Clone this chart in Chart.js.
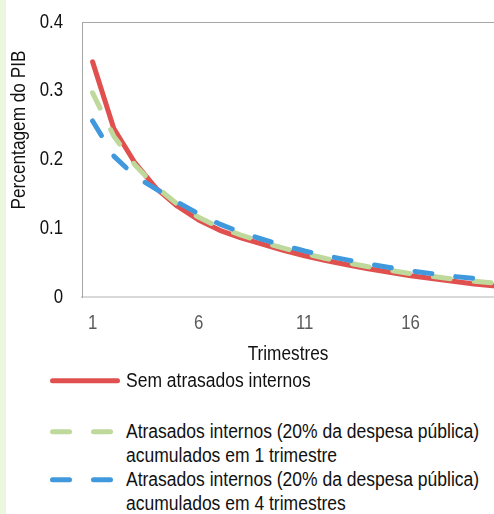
<!DOCTYPE html>
<html lang="pt">
<head>
<meta charset="utf-8">
<title>Atrasados internos</title>
<script src="https://cdn.jsdelivr.net/npm/chart.js@4.4.1/dist/chart.umd.min.js"></script>
<style>
  html, body { margin: 0; padding: 0; }
  body {
    width: 494px; height: 514px; overflow: hidden; position: relative;
    background: #fff; font-family: "Liberation Sans", Arial, sans-serif;
  }
  .faixa { position: absolute; left: 0; top: 0; width: 6px; height: 514px; background: #ebf8df; }
  .grafico { position: absolute; left: 0; top: 0; width: 520px; height: 372px; }
  #legenda { position: absolute; left: 48px; top: 0; }
  .item {
    position: absolute; left: 0; display: flex; align-items: flex-start;
    white-space: nowrap; font-size: 20px; line-height: 23.5px; color: #111;
  }
  .item svg { width: 78px; height: 23.5px; flex: none; }
  /* letra estreita, como Arial Narrow */
  .item .texto { transform: scaleX(0.875); transform-origin: 0 0; }
  .item:nth-child(1) { top: 369px; }
  .item:nth-child(2) { top: 420px; }
  .item:nth-child(3) { top: 468px; }
</style>
</head>
<body>
<div class="faixa"></div>
<div class="grafico"><canvas id="graficoAtrasados"></canvas></div>
<div id="legenda"></div>

<script>
const FONTE = '"Liberation Sans", Arial, sans-serif';
const COMPRESSAO = 0.84;

// Trimestres no eixo horizontal
const trimestres = ['1','2','3','4','5','6','7','8','9','10','11','12','13','14','15','16','17','18','19','20'];
const rotulosX = ['1', '6', '11', '16'];
const marcasY = [0, 0.1, 0.2, 0.3, 0.4];

// Séries (percentagem do PIB)
const semAtrasados = [0.342, 0.245, 0.195, 0.158, 0.132, 0.112, 0.097, 0.086, 0.077, 0.068, 0.060, 0.053, 0.047, 0.041, 0.036, 0.031, 0.027, 0.023, 0.019, 0.016];
const atrasados1T  = [0.297, 0.234, 0.192, 0.160, 0.135, 0.116, 0.101, 0.090, 0.080, 0.071, 0.063, 0.056, 0.050, 0.044, 0.039, 0.034, 0.030, 0.026, 0.023, 0.020];
const atrasados4T  = [0.256, 0.205, 0.176, 0.157, 0.138, 0.121, 0.106, 0.094, 0.084, 0.075, 0.067, 0.060, 0.054, 0.048, 0.043, 0.038, 0.034, 0.030, 0.027, 0.024];

const nomesSeries = [
    ['Sem atrasados internos'],
    ['Atrasados internos (20% da despesa pública)', 'acumulados em 1 trimestre'],
    ['Atrasados internos (20% da despesa pública)', 'acumulados em 4 trimestres']
];
const coresSeries = ['#e0504e', '#bfd89c', '#4099dd'];
const tracejado = [17, 24];

const tituloX = 'Trimestres';
const tituloY = 'Percentagem do PIB';

// texto comprimido na horizontal
function escrever(ctx, str, x, y, align) {
    ctx.save();
    ctx.translate(x, y);
    ctx.scale(COMPRESSAO, 1);
    ctx.textAlign = align;
    ctx.fillText(str, 0, 0);
    ctx.restore();
}

// Rótulos das marcas e títulos dos eixos
const rotulosEixos = {
    id: 'rotulosEixos',
    afterDraw(chart) {
        const ctx = chart.ctx;
        const sx = chart.scales.x, sy = chart.scales.y;
        ctx.save();
        ctx.textBaseline = 'middle';
        ctx.font = '20px ' + FONTE;

        ctx.fillStyle = '#111';
        marcasY.forEach(v => {
            escrever(ctx, v === 0 ? '0' : v.toFixed(1), sy.right - 19, sy.getPixelForValue(v), 'right');
        });

        ctx.fillStyle = '#595959';
        rotulosX.forEach(r => {
            escrever(ctx, r, sx.getPixelForValue(trimestres.indexOf(r)), sx.top + 26, 'center');
        });

        ctx.fillStyle = '#111';
        ctx.font = '20.5px ' + FONTE;
        escrever(ctx, tituloX, 288, 354, 'center');
        ctx.translate(19, 130);
        ctx.rotate(-Math.PI / 2);
        escrever(ctx, tituloY, 0, 0, 'center');
        ctx.restore();
    }
};

const dadosSeries = [semAtrasados, atrasados1T, atrasados4T];

new Chart(document.getElementById('graficoAtrasados'), {
    type: 'line',
    data: {
        labels: trimestres,
        datasets: dadosSeries.map((valores, i) => ({
            label: nomesSeries[i].join(' '),
            data: valores,
            borderColor: coresSeries[i],
            borderWidth: 5,
            borderDash: i === 0 ? [] : tracejado,
            borderCapStyle: 'round',
            borderJoinStyle: 'round',
            pointRadius: 0,
            tension: 0,
            fill: false,
            order: 3 - i // a azul fica por cima
        }))
    },
    options: {
        responsive: true,
        maintainAspectRatio: false,
        animation: false,
        events: [],
        layout: { padding: { top: 22, right: 14, bottom: 0, left: 0 } },
        plugins: { legend: { display: false }, tooltip: { enabled: false } },
        scales: {
            x: {
                type: 'category',
                offset: true,
                grid: { display: false },
                border: { color: '#d9d9d9', width: 2 },
                ticks: { display: false },
                afterFit: s => { s.height = 75; }
            },
            y: {
                min: marcasY[0],
                max: marcasY[marcasY.length - 1],
                afterBuildTicks: s => { s.ticks = marcasY.map(v => ({ value: v })); },
                grid: {
                    drawTicks: false,
                    color: c => (c.tick && c.tick.value === 0.4) ? '#a6a6a6' : 'rgba(0,0,0,0)',
                    lineWidth: 1
                },
                border: { color: '#a6a6a6', width: 1 },
                ticks: { display: false },
                afterFit: s => { s.width = 82; }
            }
        }
    },
    plugins: [rotulosEixos]
});

// Legenda em HTML com amostras das linhas
const legenda = document.getElementById('legenda');
nomesSeries.forEach((linhas, i) => {
    const item = document.createElement('div');
    item.className = 'item';
    const dash = i === 0 ? '' : ` stroke-dasharray="${tracejado.join(' ')}"`;
    const x2 = i === 0 ? 69.5 : 62.5;
    item.innerHTML =
        `<svg viewBox="0 0 78 23.5"><line x1="4.5" y1="11.75" x2="${x2}" y2="11.75" stroke="${coresSeries[i]}" stroke-width="5" stroke-linecap="round"${dash}/></svg>` +
        `<div class="texto">${linhas.join('<br>')}</div>`;
    legenda.appendChild(item);
});
</script>
</body>
</html>
